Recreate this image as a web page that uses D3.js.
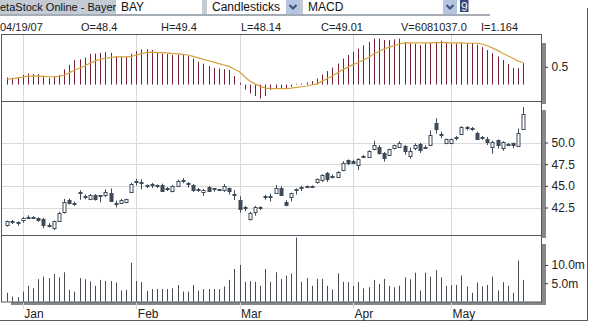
<!DOCTYPE html>
<html>
<head>
<meta charset="utf-8">
<script src="https://cdn.jsdelivr.net/npm/d3@7"></script>
<style>
  body { margin: 0; background: #fff; }
  svg { display: block; }
  text { font-family: "Liberation Sans", Arial, sans-serif; }
</style>
</head>
<body>
<script>
// trading days, Dec 27 2006 - May 22 2007
var days = ["12/27","12/28","12/29",
  "01/02","01/03","01/04","01/05","01/08","01/09","01/10","01/11","01/12","01/15","01/16","01/17","01/18","01/19","01/22","01/23","01/24","01/25","01/26","01/29","01/30","01/31",
  "02/01","02/02","02/05","02/06","02/07","02/08","02/09","02/12","02/13","02/14","02/15","02/16","02/19","02/20","02/21","02/22","02/23","02/26","02/27","02/28",
  "03/01","03/02","03/05","03/06","03/07","03/08","03/09","03/12","03/13","03/14","03/15","03/16","03/19","03/20","03/21","03/22","03/23","03/26","03/27","03/28","03/29","03/30",
  "04/02","04/03","04/04","04/05","04/10","04/11","04/12","04/13","04/16","04/17","04/18","04/19","04/20","04/23","04/24","04/25","04/26","04/27","04/30",
  "05/02","05/03","05/04","05/07","05/08","05/09","05/10","05/11","05/14","05/15","05/16","05/17","05/18","05/21","05/22"];

var opens = [40.45,41.0,40.85,41.0,41.45,41.35,41.26,41.2,40.5,40.1,
  41.0,41.95,43.35,43.05,44.2,43.8,43.4,43.9,43.85,43.9,
  44.2,43.05,43.1,43.1,44.3,45.5,45.5,45.1,45.25,45.1,
  45.1,44.8,44.4,45.0,45.6,45.35,45.1,44.65,44.3,44.9,
  44.7,44.55,44.5,44.7,44.1,43.4,42.55,41.2,42.0,42.55,
  43.85,43.85,44.2,44.8,43.1,43.7,44.6,44.9,45.0,45.0,
  45.35,45.65,46.5,46.1,46.0,46.8,47.95,47.9,47.4,48.45,
  48.4,49.2,49.5,48.8,48.55,49.3,49.5,49.6,48.4,49.3,
  49.8,49.5,49.7,52.2,50.95,49.9,49.9,50.65,50.95,51.8,
  51.7,51.15,50.6,50.45,49.5,50.25,49.4,49.8,49.9,49.6,
  51.6];
var highs = [41.0,41.05,40.9,41.4,41.6,41.5,41.38,41.3,40.7,41.0,
  42.0,43.5,43.55,43.2,44.5,44.0,44.05,44.05,43.95,44.6,
  44.7,43.3,43.5,43.5,45.35,45.8,45.75,45.15,45.35,45.15,
  45.25,44.85,45.1,45.7,45.9,45.45,45.2,44.75,44.65,45.0,
  44.75,44.65,45.2,44.8,44.5,43.8,42.7,42.0,42.7,42.65,
  43.95,44.1,45.1,44.95,43.35,44.2,44.7,45.0,45.05,45.05,
  45.85,46.35,46.6,46.3,46.7,47.85,48.05,48.0,48.2,48.55,
  49.1,50.2,49.7,48.9,49.3,49.75,50.15,49.7,49.4,49.9,
  49.95,49.7,51.4,52.8,51.25,50.45,50.45,50.75,51.9,51.9,
  51.8,51.25,50.75,50.65,50.2,50.35,50.15,49.95,50.0,51.6,
  54.1];
var lows = [40.3,40.6,40.4,40.75,41.3,41.2,40.85,40.1,40.2,39.9,
  40.85,41.8,42.85,42.7,43.4,43.45,43.35,43.3,43.1,43.7,
  43.2,42.5,42.95,43.0,44.2,45.05,44.6,44.75,44.75,44.75,
  44.3,44.4,44.25,44.95,45.3,44.8,44.3,44.3,43.85,44.3,
  44.35,44.4,44.3,44.0,43.35,41.9,42.1,41.0,41.55,42.2,
  43.4,43.2,44.1,43.85,42.65,43.2,44.0,44.4,44.8,44.8,
  45.25,45.45,45.45,45.85,45.9,46.7,47.4,47.6,46.8,48.3,
  48.3,49.1,48.6,47.8,48.45,49.2,49.45,48.6,48.14,49.1,
  48.8,49.3,49.6,51.05,50.5,49.8,49.8,50.25,50.85,51.4,
  51.35,50.35,50.3,49.7,48.7,49.3,49.05,49.6,49.35,49.5,
  51.5];
var closes = [40.9,40.98,40.83,41.26,41.42,41.33,41.0,40.5,40.45,40.9,
  41.9,43.1,43.0,43.0,44.25,43.85,43.9,43.4,43.9,44.25,
  43.3,43.0,43.4,43.45,45.2,45.55,45.45,45.05,45.2,45.05,
  44.4,44.75,45.0,45.6,45.65,45.3,44.5,44.6,44.55,44.45,
  44.65,44.6,44.95,44.3,44.05,42.4,42.5,41.85,42.6,42.5,
  43.8,43.8,44.8,44.0,42.75,44.15,44.55,44.85,44.95,44.95,
  45.75,46.2,45.85,46.05,46.6,47.65,47.65,47.7,48.1,48.4,
  49.05,49.7,48.8,48.25,49.2,49.7,49.95,49.05,49.01,49.7,
  49.1,49.45,50.9,51.5,50.9,50.35,50.35,50.6,51.8,51.75,
  51.65,50.45,50.55,50.1,50.1,49.7,50.1,49.75,49.65,51.1,
  53.3];

// volume in millions
var volumes = [2.4,1.35,1.2,2.7,4.3,3.6,6.1,6.8,6.4,7.5,
  6.6,8.0,3.2,2.7,6.4,6.1,5.5,4.3,5.9,5.6,
  5.6,5.2,3.0,3.2,10.6,5.6,5.3,2.9,3.4,3.4,
  3.4,3.4,3.6,4.5,2.7,2.7,4.5,3.0,3.4,3.4,
  3.4,3.4,4.1,5.9,8.9,10.0,5.4,5.6,5.4,4.3,
  8.9,5.4,8.0,6.2,7.1,7.7,17.5,5.4,6.4,4.3,
  6.2,6.2,4.3,3.3,7.7,5.4,5.3,4.3,5.3,3.6,
  3.9,5.9,4.8,6.2,4.3,3.9,4.3,6.6,6.08,7.9,
  3.0,7.9,6.8,8.6,6.6,4.3,4.5,4.5,7.1,4.1,
  2.4,5.2,4.1,4.5,6.8,3.0,5.3,4.3,2.4,11.2,
  5.9];

var macd = [0.2,0.19,0.19,0.27,0.31,0.29,0.29,0.25,0.19,0.22,0.27,
  0.43,0.55,0.69,0.71,0.76,0.86,0.87,0.89,0.91,0.89,
  0.8,0.78,0.78,0.87,0.94,0.99,0.99,0.97,0.92,0.87,
  0.86,0.83,0.84,0.83,0.8,0.73,0.64,0.59,0.52,0.47,
  0.45,0.43,0.41,0.24,0.05,-0.14,-0.25,-0.32,-0.39,-0.32,
  -0.15,-0.12,-0.1,-0.1,-0.06,0.02,0.03,0.06,0.1,0.17,
  0.28,0.38,0.48,0.59,0.73,0.83,0.92,1.01,1.1,1.2,
  1.29,1.29,1.25,1.25,1.27,1.29,1.2,1.164,1.14,1.11,
  1.15,1.17,1.2,1.23,1.18,1.15,1.15,1.17,1.17,1.17,
  1.12,1.05,0.97,0.88,0.79,0.69,0.58,0.47,0.46,0.6];
var signal = [0.15,0.17,0.19,0.21,0.24,0.24,0.24,0.23,0.22,0.22,0.23,
  0.27,0.33,0.41,0.46,0.52,0.6,0.66,0.71,0.74,0.76,
  0.78,0.78,0.78,0.79,0.83,0.87,0.9,0.91,0.9,0.9,
  0.89,0.87,0.86,0.85,0.83,0.79,0.75,0.71,0.67,0.63,
  0.59,0.55,0.51,0.43,0.36,0.22,0.1,0.02,-0.05,-0.1,
  -0.11,-0.11,-0.11,-0.11,-0.1,-0.08,-0.06,-0.04,-0.01,0.02,
  0.09,0.17,0.24,0.33,0.42,0.49,0.56,0.62,0.69,0.76,
  0.86,0.93,1.0,1.05,1.09,1.14,1.17,1.17,1.17,1.17,
  1.17,1.17,1.18,1.18,1.18,1.17,1.17,1.17,1.16,1.16,
  1.16,1.14,1.09,1.03,0.96,0.88,0.81,0.74,0.66,0.62];

var monthDays = ["01/02","02/01","03/01","04/02","05/02"];
var monthLabels = ["Jan","Feb","Mar","Apr","May"];
var priceTicks = [42.5, 45, 47.5, 50];
var volumeTicks = [5, 10];
var macdTicks = [0.5];

var headerItems = ["04/19/07","O=48.4","H=49.4","L=48.14","C=49.01","V=6081037.0","I=1.164"];

var svgWidth = 591, svgHeight = 322;
var left = 1.5, right = 541.5;
var panels = {
  macd: {top: 34, bottom: 101},
  price: {top: 101, bottom: 235},
  volume: {top: 235, bottom: 301.5}
};

var svg = d3.select("body").append("svg")
  .attr("width", svgWidth)
  .attr("height", svgHeight);

// ---- toolbar row ----
var bar = svg.append("g");
bar.append("rect").attr("x", 0).attr("y", 0).attr("width", 490).attr("height", 15).attr("fill", "#c4cbd3");
bar.append("rect").attr("x", 0).attr("y", 14).attr("width", 490).attr("height", 2).attr("fill", "#a4acb6");
bar.append("text").attr("x", 0).attr("y", 10.5).attr("font-size", 11).attr("fill", "#111").text("etaStock Online - Bayer");

var boxes = [
  {x: 116, w: 86, label: "BAY", arrow: false},
  {x: 207, w: 93, label: "Candlesticks", arrow: true},
  {x: 303, w: 154, label: "MACD", arrow: true},
  {x: 457, w: 33, label: "", arrow: false}
];
boxes.forEach(function(b) {
  bar.append("rect").attr("x", b.x).attr("y", 0).attr("width", b.w).attr("height", 14).attr("fill", "#fff");
  if (b.label) {
    bar.append("text").attr("x", b.x + 5).attr("y", 11).attr("font-size", 12).attr("fill", "#111").text(b.label);
  }
  if (b.arrow) {
    var ax = b.x + b.w - 14;
    bar.append("rect").attr("x", ax).attr("y", 0).attr("width", 14).attr("height", 14).attr("fill", "#b6c5e4");
    bar.append("path")
      .attr("d", `M${ax + 3.5},5 L${ax + 7},8.5 L${ax + 10.5},5`)
      .attr("fill", "none").attr("stroke", "#3f5378").attr("stroke-width", 2);
  }
});
bar.append("rect").attr("x", 460).attr("y", 0).attr("width", 8.5).attr("height", 12).attr("fill", "#33467c");
bar.append("text").attr("x", 461).attr("y", 10.5).attr("font-size", 12).attr("fill", "#e8ecf6").text("9");

// info row
svg.selectAll(".info")
  .data(headerItems)
  .enter()
  .append("text")
  .attr("class", "info")
  .attr("x", (d, i) => i * 80 + (i ? 1 : 0))
  .attr("y", 31)
  .attr("font-size", 11)
  .attr("fill", "#222")
  .text(d => d);

// outer frame
svg.append("line").attr("x1", 587.5).attr("x2", 587.5).attr("y1", 8).attr("y2", 321).attr("stroke", "#5a5f66");
svg.append("line").attr("x1", 0).attr("x2", 588).attr("y1", 320.5).attr("y2", 320.5).attr("stroke", "#5a5f66");

// ---- scales ----
var x = d3.scalePoint().domain(days).range([7.3, 523.3]);
var yPrice = d3.scaleLinear().domain([39.33, 54.79]).range([panels.price.bottom, panels.price.top]);
var yMacd = d3.scaleLinear().domain([-0.46, 1.42]).range([panels.macd.bottom, panels.macd.top]);
var yVol = d3.scaleLinear().domain([0, 18.2]).range([panels.volume.bottom, panels.volume.top]);
var px = d => Math.round(x(d)) + 0.5;

// shadows, then panel backgrounds
Object.keys(panels).forEach(function(k) {
  var p = panels[k];
  svg.append("rect").attr("x", right + 0.5).attr("y", p.top + 9).attr("width", 4)
    .attr("height", p.bottom - p.top - 6).attr("fill", "#888");
});
svg.append("rect").attr("x", left + 9.5).attr("y", panels.volume.bottom + 0.5)
  .attr("width", right + 4.5 - left - 9.5).attr("height", 3).attr("fill", "#888");
Object.keys(panels).forEach(function(k) {
  var p = panels[k];
  svg.append("rect").attr("x", left).attr("y", p.top).attr("width", right - left)
    .attr("height", p.bottom - p.top).attr("fill", "#fff");
});

// gridlines
svg.selectAll(".vgrid")
  .data(monthDays)
  .enter()
  .append("line")
  .attr("class", "vgrid")
  .attr("x1", px).attr("x2", px)
  .attr("y1", panels.macd.top).attr("y2", 309)
  .attr("stroke", "#d9d9d9");
svg.selectAll(".hgrid")
  .data(priceTicks)
  .enter()
  .append("line")
  .attr("class", "hgrid")
  .attr("x1", left).attr("x2", right)
  .attr("y1", d => Math.round(yPrice(d)) + 0.5).attr("y2", d => Math.round(yPrice(d)) + 0.5)
  .attr("stroke", "#dadada");

// ---- MACD panel ----
svg.selectAll(".macdbar")
  .data(days)
  .enter()
  .append("line")
  .attr("class", "macdbar")
  .attr("x1", px).attr("x2", px)
  .attr("y1", yMacd(0))
  .attr("y2", (d, i) => yMacd(macd[i]))
  .attr("stroke", "#7a2032");

var signalLine = d3.line()
  .x((d, i) => x(days[i]))
  .y(d => yMacd(d));
svg.append("path")
  .datum(signal)
  .attr("d", signalLine)
  .attr("fill", "none")
  .attr("stroke", "#d6a23c")
  .attr("stroke-width", 1.2);

// ---- price panel: candlesticks ----
var candles = svg.selectAll(".candle")
  .data(days)
  .enter()
  .append("g")
  .attr("class", "candle");
candles.append("line")
  .attr("x1", px).attr("x2", px)
  .attr("y1", (d, i) => yPrice(highs[i]))
  .attr("y2", (d, i) => yPrice(lows[i]))
  .attr("stroke", "#3e4a58");
candles.append("rect")
  .attr("x", d => px(d) - 1.5)
  .attr("y", (d, i) => Math.round(yPrice(Math.max(opens[i], closes[i]))) + 0.5)
  .attr("width", 3)
  .attr("height", (d, i) => Math.max(1, Math.round(Math.abs(yPrice(opens[i]) - yPrice(closes[i])))))
  .attr("fill", (d, i) => closes[i] >= opens[i] ? "#fff" : "#3e4a58")
  .attr("stroke", "#3e4a58");

// ---- volume panel ----
svg.selectAll(".volbar")
  .data(days)
  .enter()
  .append("line")
  .attr("class", "volbar")
  .attr("x1", px).attr("x2", px)
  .attr("y1", yVol(0))
  .attr("y2", (d, i) => yVol(volumes[i]))
  .attr("stroke", "#474d55");

// panel borders
Object.keys(panels).forEach(function(k) {
  var p = panels[k];
  svg.append("rect").attr("x", left).attr("y", p.top + 0.5).attr("width", right - left)
    .attr("height", p.bottom - p.top).attr("fill", "none").attr("stroke", "#4f5862");
});

// ---- axes ----
function styleAxis(g) {
  g.select(".domain").remove();
  g.selectAll("line").attr("stroke", "#333");
  g.selectAll("text").attr("font-size", 12).attr("fill", "#222")
    .attr("font-family", "'Liberation Sans', Arial, sans-serif");
}

svg.append("g")
  .attr("transform", "translate(545,0)")
  .call(d3.axisRight(yMacd).tickValues(macdTicks).tickSize(3).tickPadding(3.5).tickFormat(d3.format(".1f")))
  .call(styleAxis);
svg.append("g")
  .attr("transform", "translate(545,0)")
  .call(d3.axisRight(yPrice).tickValues(priceTicks).tickSize(3).tickPadding(3.5).tickFormat(d3.format(".1f")))
  .call(styleAxis);
svg.append("g")
  .attr("transform", "translate(545,0)")
  .call(d3.axisRight(yVol).tickValues(volumeTicks).tickSize(3).tickPadding(3.5).tickFormat(d => d.toFixed(1) + "m"))
  .call(styleAxis);

var xAxis = svg.append("g")
  .attr("transform", "translate(0,309)")
  .call(d3.axisBottom(x).tickValues(monthDays).tickSize(0).tickPadding(0)
    .tickFormat((d, i) => monthLabels[i]))
  .call(styleAxis);
xAxis.selectAll("text")
  .attr("text-anchor", "start")
  .attr("dx", 1)
  .attr("dy", 0)
  .attr("y", 9);
</script>
</body>
</html>
